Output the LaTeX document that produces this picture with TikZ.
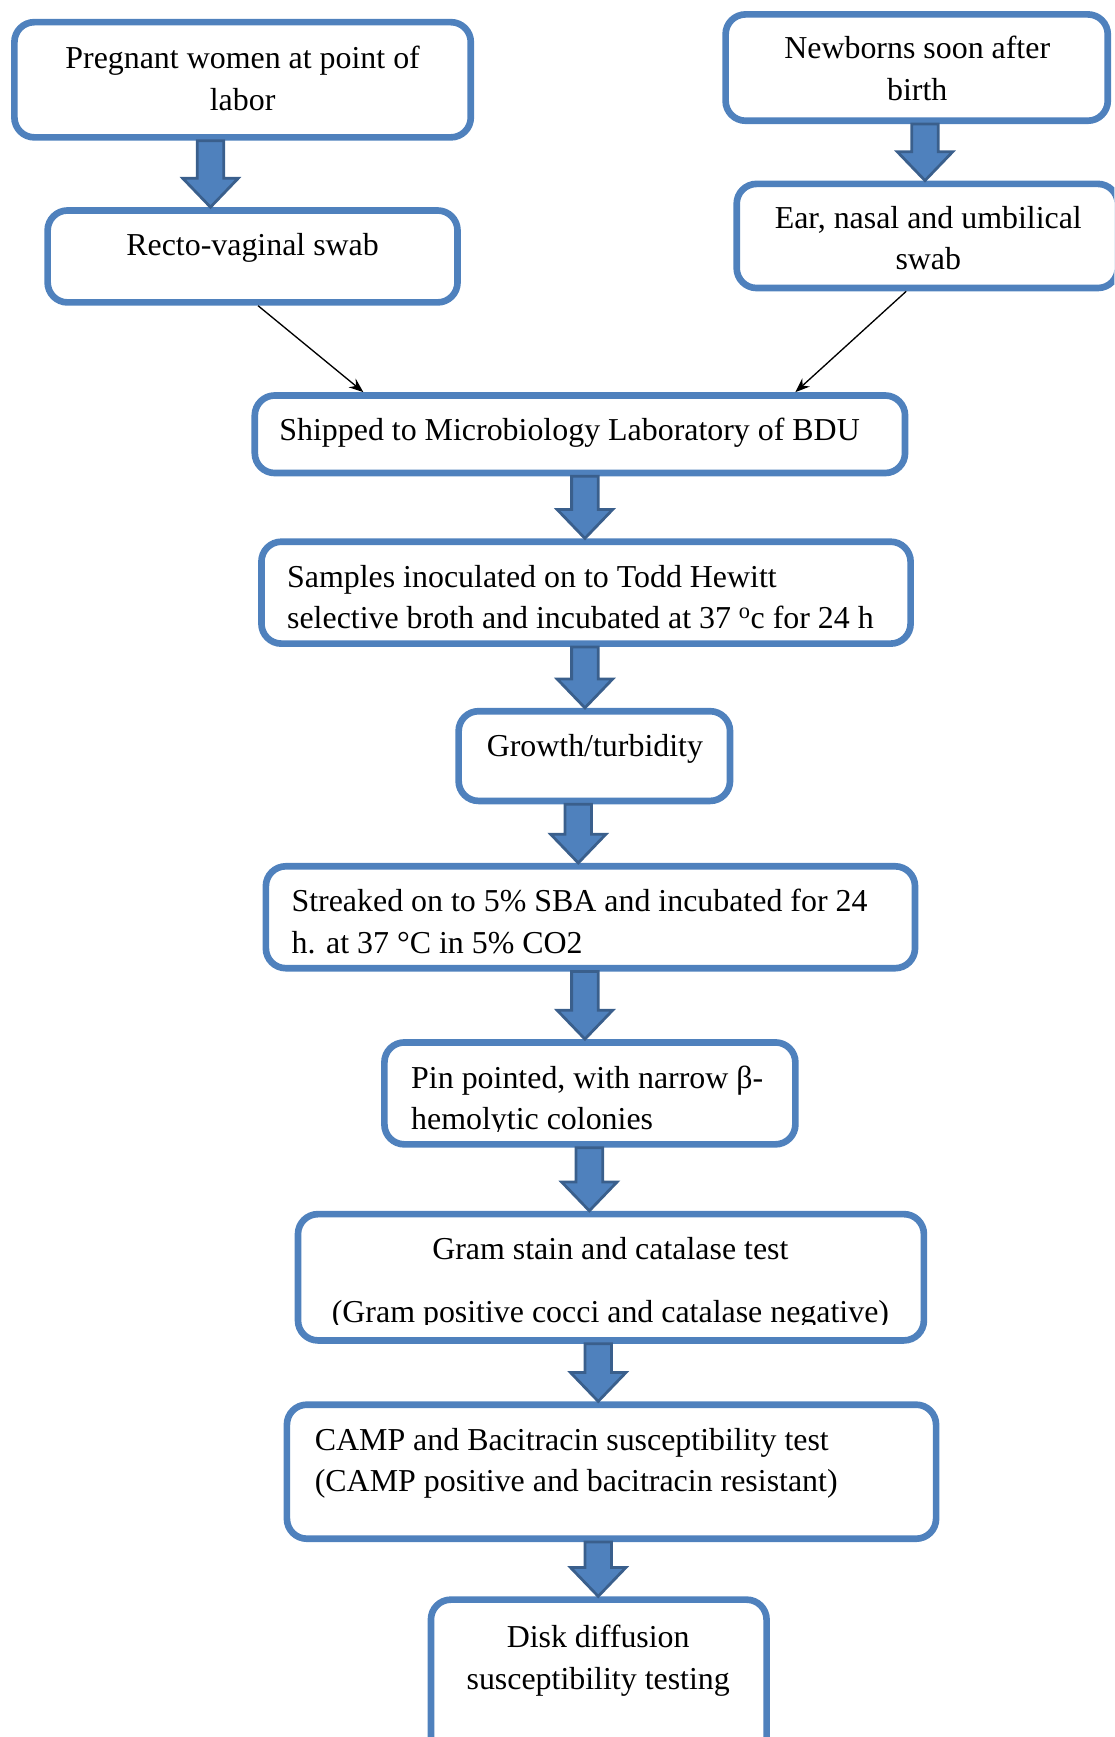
\documentclass[tikz,border=0pt]{standalone}
\usepackage{fontspec}
\setmainfont{Liberation Serif}
\usetikzlibrary{calc,arrows.meta}
\definecolor{boxblue}{HTML}{4F81BD}
\definecolor{arrdark}{HTML}{3A5F8C}
\tikzset{
  box/.style={draw=boxblue, line width=6pt, rounded corners=18pt, inner sep=0pt, fill=white},
  txt/.style={inner sep=0pt, font=\fontsize{28.8}{37.5}\selectfont},
  barrowsty/.style={fill=boxblue, draw=arrdark, line width=2.5pt, line join=miter},
  thinarrow/.style={draw=black, line width=1.2pt, -{Stealth[length=13pt,width=10pt]}}
}
\newcommand\mybox[5]{\node[box, minimum width={#4-#2-6}, minimum height={#5-#3-6}] (#1) at ({(#2+#4)/2},{(#3+#5)/2}) {};}
\newcommand\barrow[3]{\draw[barrowsty] let \p1=(#2.south), \p2=(#3.north) in
 ({(#1-12)*1pt},\y1) -- ({(#1-12)*1pt},\y2+26pt) -- ({(#1-25)*1pt},\y2+26pt) -- ({#1*1pt},\y2) -- ({(#1+25)*1pt},\y2+26pt) -- ({(#1+12)*1pt},\y2+26pt) -- ({(#1+12)*1pt},\y1) -- cycle;}
\begin{document}
\begin{tikzpicture}[x=1pt,y=-1pt]
\useasboundingbox (0,0) rectangle (1006,1568);
\clip (0,0) rectangle (1006,1568);
% boxes
\mybox{b1}{10}{17}{428}{127}
\mybox{b2}{40}{187}{416}{276}
\mybox{b3}{652}{10}{1003}{112}
\mybox{b4}{662}{163}{1012}{263}
\mybox{b5}{227}{354}{820}{430}
\mybox{b6}{233}{486}{825}{584}
\mybox{b7}{411}{639}{662}{726}
\mybox{b8}{237}{779}{829}{877}
\mybox{b9}{344}{938}{721}{1036}
\mybox{b10}{266}{1093}{837}{1213}
\mybox{b11}{256}{1265}{848}{1392}
\mybox{b12}{386}{1441}{695}{1610}
% texts
\node[txt, anchor=north, align=center] (t1) at (219,{62-26.25}) {\strut Pregnant women at point of\\labor};
\node[txt, anchor=north, align=center] (t2) at (228,{230-26.25}) {\strut Recto-vaginal swab};
\node[txt, anchor=north, align=center] (t3) at (828,{53-26.25}) {\strut Newborns soon after\\birth};
\node[txt, anchor=north, align=center] (t4) at (838,{206-26.25}) {\strut Ear, nasal and umbilical\\swab};
\node[txt, anchor=north west, align=left] (t5) at (252,{397-26.25}) {\strut Shipped to Microbiology Laboratory of BDU};
\node[txt, anchor=north west, align=left] (t6) at (259,{530-26.25}) {\strut Samples inoculated on to Todd Hewitt\\selective broth and incubated at 37 \textsuperscript{o}c for 24 h};
\node[txt, anchor=north, align=center] (t7) at (537,{683-26.25}) {\strut Growth/turbidity};
\node[txt, anchor=north west, align=left] (t8) at (263,{823-26.25}) {\strut Streaked on to 5\% SBA and incubated for 24\\h. at 37 °C in 5\% CO2};
\begin{scope}
\clip (344,938) rectangle (721,1021);
\node[txt, anchor=north west, align=left] (t9) at (371,{982-26.25}) {\strut Pin pointed, with narrow β-\\hemolytic colonies};
\end{scope}
\begin{scope}
\clip (266,1093) rectangle (837,1196);
\node[txt, anchor=north, align=center] (t10) at (551,{1137-26.25}) {\strut Gram stain and catalase test\\[19pt](Gram positive cocci and catalase negative)};
\end{scope}
\node[txt, anchor=north west, align=left] (t11) at (284,{1309-26.25}) {\strut CAMP and Bacitracin susceptibility test\\(CAMP positive and bacitracin resistant)};
\node[txt, anchor=north, align=center] (t12) at (540,{1487-26.25}) {\strut Disk diffusion\\susceptibility testing};
% block arrows
\barrow{190}{b1}{b2}
\barrow{835}{b3}{b4}
\barrow{528}{b5}{b6}
\barrow{528}{b6}{b7}
\barrow{522}{b7}{b8}
\barrow{528}{b8}{b9}
\barrow{532}{b9}{b10}
\barrow{540}{b10}{b11}
\barrow{540}{b11}{b12}
% thin arrows
\draw[thinarrow] ([xshift=5pt]b2.south) -- ([xshift=-195.5pt]b5.north);
\draw[thinarrow] ([xshift=-19pt]b4.south) -- ([xshift=194.5pt]b5.north);
\end{tikzpicture}
\end{document}
